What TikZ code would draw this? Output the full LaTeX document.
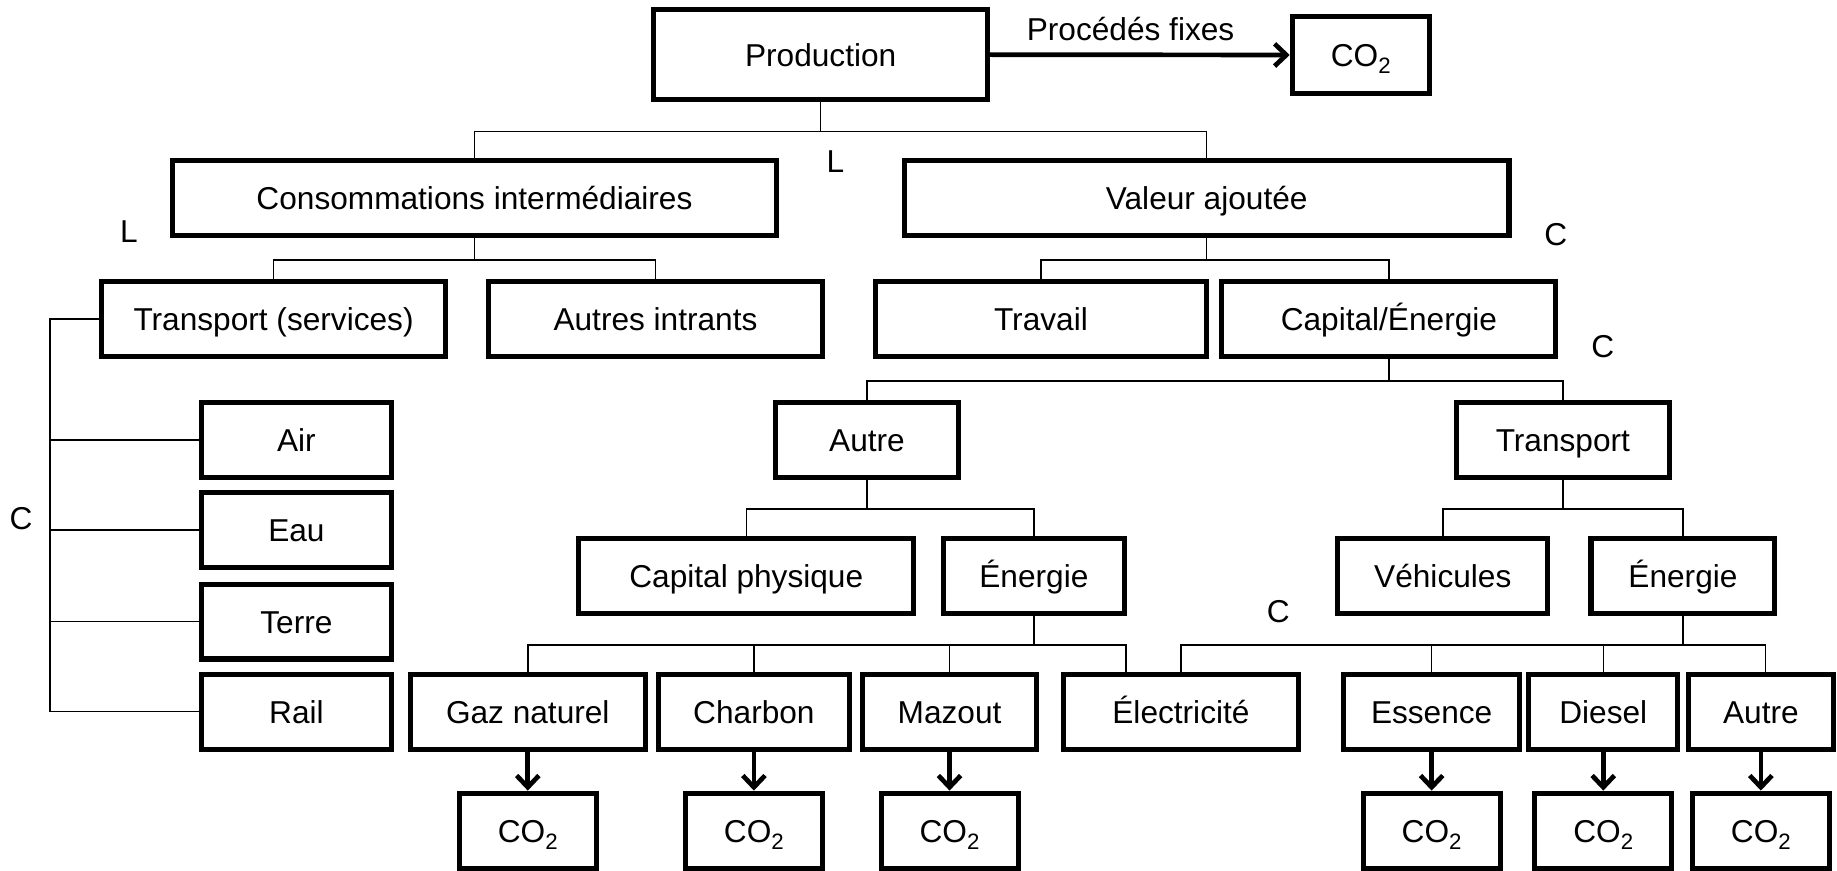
\documentclass[tikz,border=0pt]{standalone}
\usepackage{fontspec}
\setmainfont{Liberation Sans}
\usetikzlibrary{arrows.meta}

\newcommand\cotwo{CO\raisebox{-6pt}{\fontsize{19}{19}\selectfont 2}}

\tikzset{
  box/.style={draw,line width=4.3pt,inner sep=0pt,minimum height=64pt,text height=21pt,text depth=1pt,font=\fontsize{27}{32}\selectfont},
  bus/.style={line width=1.3pt},
  flow/.style={line width=4pt,-{Straight Barb[length=10pt,width=19pt]}},
  lbl/.style={inner sep=1pt,font=\fontsize{27}{32}\selectfont}
}

\begin{document}
\begin{tikzpicture}[x=1pt,y=-1pt]
  \useasboundingbox (0,0) rectangle (1568,743);

  % top level
  \node[box,minimum width=285pt,minimum height=77pt] (prod) at (700.5,46.5) {Production};
  \node[box,minimum width=117pt,minimum height=66pt] (co2t) at (1161.5,47) {\cotwo};
  \draw[flow] (prod) -- (co2t) node[lbl,midway,anchor=south,yshift=9pt,xshift=-8pt] {Procédés fixes};

  \node[box,minimum width=516pt] (ci) at (405,169) {Consommations intermédiaires};
  \node[box,minimum width=516pt] (va) at (1030,169) {Valeur ajoutée};

  % second level
  \node[box,minimum width=293pt] (ts) at (233.5,272) {Transport (services)};
  \node[box,minimum width=285pt] (ai) at (559.5,272) {Autres intrants};
  \node[box,minimum width=283pt] (trav) at (888.5,272) {Travail};
  \node[box,minimum width=285pt] (cape) at (1185.5,272) {Capital/Énergie};

  % transport modes
  \node[box,minimum width=162pt] (air) at (253,375.5) {Air};
  \node[box,minimum width=162pt] (eau) at (253,452.5) {Eau};
  \node[box,minimum width=162pt] (terre) at (253,530.5) {Terre};
  \node[box,minimum width=162pt] (rail) at (253,607.5) {Rail};

  \node[box,minimum width=156pt] (autre) at (740,375.5) {Autre};
  \node[box,minimum width=182pt] (trsp) at (1334,375.5) {Transport};

  \node[box,minimum width=286pt] (capp) at (637,491.5) {Capital physique};
  \node[box,minimum width=155pt] (ener) at (882.5,491.5) {Énergie};
  \node[box,minimum width=179pt] (veh) at (1231.5,491.5) {Véhicules};
  \node[box,minimum width=157pt] (enert) at (1436.5,491.5) {Énergie};

  % fuels
  \node[box,minimum width=201pt] (gaz) at (450.5,607.5) {Gaz naturel};
  \node[box,minimum width=163pt] (charb) at (643.5,607.5) {Charbon};
  \node[box,minimum width=149pt] (maz) at (810.5,607.5) {Mazout};
  \node[box,minimum width=200pt] (elec) at (1008,607.5) {Électricité};
  \node[box,minimum width=150pt] (ess) at (1222,607.5) {Essence};
  \node[box,minimum width=127pt] (dies) at (1368.5,607.5) {Diesel};
  \node[box,minimum width=124pt] (autf) at (1503,607.5) {Autre};

  % emissions
  \foreach \src/\dst in {gaz/cgaz,charb/ccharb,maz/cmaz,ess/cess,dies/cdies,autf/cautf}{
    \node[box,minimum width=117pt] (\dst) at (\src.center |- 0,709) {\cotwo};
    \draw[flow] (\src.south) -- (\dst.north);
  }

  % nesting
  \draw[bus] (prod.south) -- ++(0,25) coordinate (j1);
  \draw[bus] (ci.north) |- (j1) -| (va.north);
  \draw[bus] (ci.south) -- ++(0,19) coordinate (j2);
  \draw[bus] (ts.north) |- (j2) -| (ai.north);
  \draw[bus] (va.south) -- ++(0,19) coordinate (j3);
  \draw[bus] (trav.north) |- (j3) -| (cape.north);
  \draw[bus] (cape.south) -- ++(0,19) coordinate (j4);
  \draw[bus] (autre.north) |- (j4) -| (trsp.north);
  \draw[bus] (autre.south) -- ++(0,25) coordinate (j5);
  \draw[bus] (capp.north) |- (j5) -| (ener.north);
  \draw[bus] (trsp.south) -- ++(0,25) coordinate (j6);
  \draw[bus] (veh.north) |- (j6) -| (enert.north);
  \draw[bus] (ener.south) -- ++(0,25) coordinate (j7);
  \draw[bus] (gaz.north) |- (j7) -| ([xshift=-47pt]elec.north);
  \foreach \n in {charb,maz} \draw[bus] (\n.north) -- (\n.north |- j7);
  \draw[bus] (enert.south) -- ++(0,25) coordinate (j8);
  \draw[bus] (elec.north) |- (j8) -| ([xshift=4pt]autf.north);
  \foreach \n in {ess,dies} \draw[bus] (\n.north) -- (\n.north |- j8);

  % left bracket
  \draw[line width=1.8pt] (ts.west) -- ++(-42,0) coordinate (bk) -- (bk |- rail.west);
  \foreach \n in {air,eau,terre,rail} \draw[bus] (\n.west) -- (bk |- \n.west);

  % elasticities
  \node[lbl] (l1) at (713,138) {L};
  \node[lbl] (l2) at (110,198) {L};
  \node[lbl] (c1) at (1328,200) {C};
  \node[lbl] (c2) at (1368,296) {C};
  \node[lbl] (c3) at (1091,522) {C};
  \node[lbl] (c4) at (18,443) {C};
\end{tikzpicture}
\end{document}
